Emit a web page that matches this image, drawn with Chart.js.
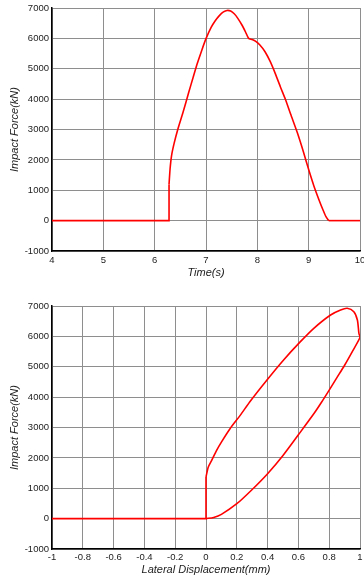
<!DOCTYPE html>
<html>
<head>
<meta charset="utf-8">
<script src="https://cdn.jsdelivr.net/npm/chart.js@4/dist/chart.umd.min.js"></script>
<style>
    body { margin: 0; background: #fff; }
    .caja { position: absolute; left: 0; width: 364px; }
</style>
</head>
<body>
<div class="caja" style="top:0;height:290px"><canvas id="graficoTiempo"></canvas></div>
<div class="caja" style="top:290px;height:287px"><canvas id="graficoDesplazamiento"></canvas></div>
<script>
// Fuerza de impacto vs tiempo: tramo en cero + salto, pulso, tramo final
const tiempoInicio = [4, 6.28, 6.28];
const fuerzaInicio = [0, 0, 1200];
const tiempoFinal = [9.39, 10];
const fuerzaFinal = [0, 0];
const tiempoPulso = [6.28, 6.30, 6.33, 6.38, 6.45, 6.55, 6.66, 6.75, 6.83, 6.92, 7.0,
    7.10, 7.18, 7.26, 7.34, 7.41, 7.48, 7.55, 7.62, 7.70, 7.77, 7.83, 7.90, 7.97, 8.05, 8.15,
    8.25, 8.35, 8.45, 8.55, 8.65, 8.78, 8.90, 9.0, 9.10, 9.20, 9.28, 9.34, 9.39];
const fuerzaPulso = [1200, 1700, 2150, 2550, 3000, 3550, 4200, 4720, 5170, 5620, 5990,
    6360, 6580, 6750, 6870, 6920, 6900, 6810, 6660, 6440, 6210, 6000, 5960, 5900, 5780, 5560,
    5240, 4840, 4400, 3980, 3500, 2890, 2250, 1680, 1150, 690, 350, 120, 0];

// Fuerza de impacto vs desplazamiento lateral: tramo en cero + salto, lazo
const despInicio = [-1, 0, 0];
const fuerzaDespInicio = [0, 0, 1370];
const despLazo = [0, 0.015, 0.037, 0.069, 0.1, 0.156, 0.222, 0.291, 0.396, 0.504, 0.613, 0.7,
    0.809, 0.874, 0.917, 0.96, 0.983, 0.993, 1.0, 0.95, 0.9, 0.85, 0.8, 0.75, 0.7,
    0.6, 0.5, 0.4, 0.3, 0.2, 0.1, 0.05, 0];
const fuerzaLazo = [1370, 1700, 1920, 2250, 2520, 2960, 3400, 3890, 4566, 5224, 5826, 6266,
    6704, 6868, 6924, 6813, 6540, 6100, 5970, 5500, 5050, 4640, 4230, 3830, 3450,
    2760, 2080, 1480, 960, 490, 140, 40, 0];

const ejeY = { min: -1000, max: 7000, paso: 1000 };

const fuente = 'Liberation Sans, Arial, sans-serif';

function puntos(xs, ys) {
    return xs.map((x, i) => ({ x: x, y: ys[i] }));
}

function serie(xs, ys, tension) {
    return {
        data: puntos(xs, ys),
        showLine: true,
        borderColor: '#ff0000',
        borderWidth: 1.6,
        pointRadius: 0,
        tension: tension
    };
}

function crearGrafico(id, series, ejeX, tituloX, opc) {
    const ctx = document.getElementById(id).getContext('2d');
    return new Chart(ctx, {
        type: 'scatter',
        data: { datasets: series },
        options: {
            responsive: true,
            maintainAspectRatio: false,
            animation: false,
            layout: { padding: { left: 0, right: 4, top: opc.arriba, bottom: 0 } },
            plugins: { legend: { display: false }, tooltip: { enabled: false } },
            scales: {
                x: {
                    type: 'linear',
                    min: ejeX.min,
                    max: ejeX.max,
                    afterFit: function(s) { s.height = opc.altoX; s.paddingLeft = 0; s.paddingRight = 0; },
                    grid: { color: '#8e8e8e', lineWidth: 1, drawTicks: false },
                    border: { display: true, color: '#000', width: 1.5 },
                    ticks: {
                        stepSize: ejeX.paso,
                        padding: opc.padX,
                        maxRotation: 0,
                        color: '#222',
                        font: { family: fuente, size: 9.5 },
                        callback: v => String(Number(v.toFixed(1)))
                    },
                    title: {
                        display: true,
                        text: tituloX,
                        color: '#222',
                        font: { family: fuente, size: 11, style: 'italic' },
                        padding: { top: 0, bottom: opc.padTitulo }
                    }
                },
                y: {
                    min: ejeY.min,
                    max: ejeY.max,
                    afterFit: function(s) { s.width = 52; s.paddingTop = 0; s.paddingBottom = 0; },
                    grid: { color: '#8e8e8e', lineWidth: 1, drawTicks: false },
                    border: { display: true, color: '#000', width: 1.5 },
                    ticks: {
                        stepSize: ejeY.paso,
                        padding: 3,
                        color: '#222',
                        font: { family: fuente, size: 9.5 },
                        callback: v => String(v)
                    },
                    title: {
                        display: true,
                        text: 'Impact Force(kN)',
                        color: '#222',
                        font: { family: fuente, size: 11, style: 'italic' },
                        padding: { top: 8.4, bottom: 0 }
                    }
                }
            }
        }
    });
}

crearGrafico('graficoTiempo', [
        serie(tiempoInicio, fuerzaInicio, 0),
        serie(tiempoPulso, fuerzaPulso, 0.2),
        serie(tiempoFinal, fuerzaFinal, 0)
    ],
    { min: 4, max: 10, paso: 1 }, 'Time(s)',
    { arriba: 8, altoX: 39, padX: 4, padTitulo: 10.4 });

crearGrafico('graficoDesplazamiento', [
        serie(despInicio, fuerzaDespInicio, 0),
        serie(despLazo, fuerzaLazo, 0.25)
    ],
    { min: -1, max: 1, paso: 0.2 }, 'Lateral Displacement(mm)',
    { arriba: 16, altoX: 28, padX: 3, padTitulo: 0 });
</script>
</body>
</html>
